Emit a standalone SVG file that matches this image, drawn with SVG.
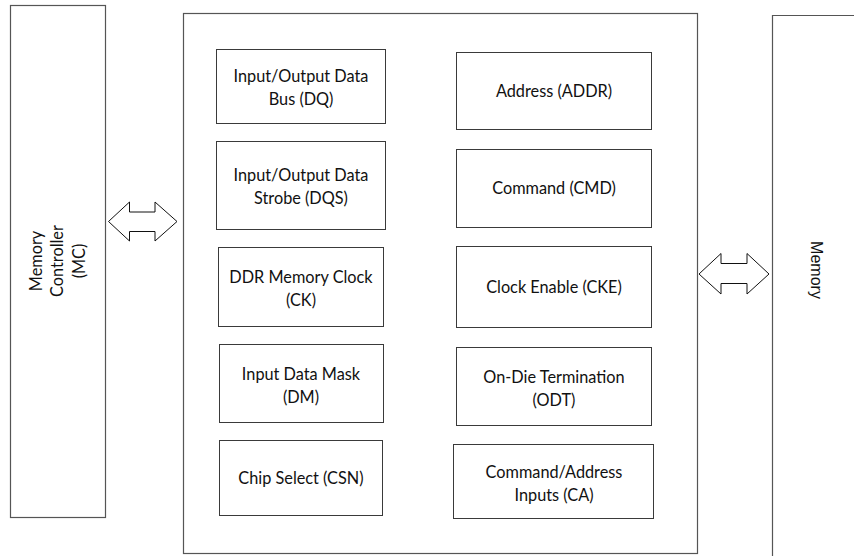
<svg xmlns="http://www.w3.org/2000/svg" width="854" height="556" viewBox="0 0 854 556">
<style>
.box{fill:#fff;stroke:#3a3a3a;stroke-width:1}
.big{fill:#fff;stroke:#555;stroke-width:1.2}
.t{font-family:Lato,"Open Sans",sans-serif;font-size:16.3px;fill:#111;text-anchor:middle}
.m{font-family:"Liberation Sans",Arial,sans-serif;font-size:16px;fill:#111;text-anchor:middle}
.arr{fill:#fff;stroke:#111;stroke-width:1}
</style>
<g id="mc">
<rect class="big" x="10.5" y="5.5" width="95" height="512"/>
<text class="t" transform="translate(57.5,261) rotate(-90)"><tspan x="0" y="-16">Memory</tspan><tspan x="0" y="5.5">Controller</tspan><tspan x="0" y="27">(MC)</tspan></text>
</g>
<g id="ddr">
<rect class="big" x="183.5" y="13.5" width="514" height="540"/>
</g>
<g id="memory">
<path class="big" d="M772.5,556 V15.5 H854"/>
<text class="m" transform="translate(816,270) rotate(90)" y="0" dy="5">Memory</text>
</g>
<g id="dq"><rect class="box" x="216.5" y="49.5" width="169" height="74"/>
<text class="t"><tspan x="301" y="82">Input/Output Data</tspan><tspan x="301" y="105">Bus (DQ)</tspan></text></g>
<g id="dqs"><rect class="box" x="216.5" y="141.5" width="169" height="88"/>
<text class="t"><tspan x="301" y="181">Input/Output Data</tspan><tspan x="301" y="204">Strobe (DQS)</tspan></text></g>
<g id="ck"><rect class="box" x="218.5" y="247.5" width="165" height="79"/>
<text class="t"><tspan x="301" y="283">DDR Memory Clock</tspan><tspan x="301" y="306">(CK)</tspan></text></g>
<g id="dm"><rect class="box" x="219.5" y="344.5" width="164" height="78"/>
<text class="t"><tspan x="301" y="380">Input Data Mask</tspan><tspan x="301" y="403">(DM)</tspan></text></g>
<g id="csn"><rect class="box" x="219.5" y="440.5" width="163" height="75"/>
<text class="t"><tspan x="301" y="484">Chip Select (CSN)</tspan></text></g>
<g id="addr"><rect class="box" x="456.5" y="52.5" width="195" height="77"/>
<text class="t"><tspan x="554" y="97">Address (ADDR)</tspan></text></g>
<g id="cmd"><rect class="box" x="456.5" y="149.5" width="195" height="78"/>
<text class="t"><tspan x="554" y="194">Command (CMD)</tspan></text></g>
<g id="cke"><rect class="box" x="456.5" y="246.5" width="195" height="81"/>
<text class="t"><tspan x="554" y="293">Clock Enable (CKE)</tspan></text></g>
<g id="odt"><rect class="box" x="456.5" y="347.5" width="195" height="78"/>
<text class="t"><tspan x="554" y="383">On-Die Termination</tspan><tspan x="554" y="406">(ODT)</tspan></text></g>
<g id="ca"><rect class="box" x="453.5" y="444.5" width="200" height="74"/>
<text class="t"><tspan x="554" y="478">Command/Address</tspan><tspan x="554" y="501">Inputs (CA)</tspan></text></g>
<g id="connectors">
<path class="arr" d="M108.5,221.5 L129.5,202 V212 H155 V202 L177,221.5 L155,241 V231.5 H129.5 V241 Z"/>
<path class="arr" d="M699,274 L721,253.5 V263.5 H747 V253.5 L769,274 L747,294 V283.5 H721 V294 Z"/>
</g>
</svg>
